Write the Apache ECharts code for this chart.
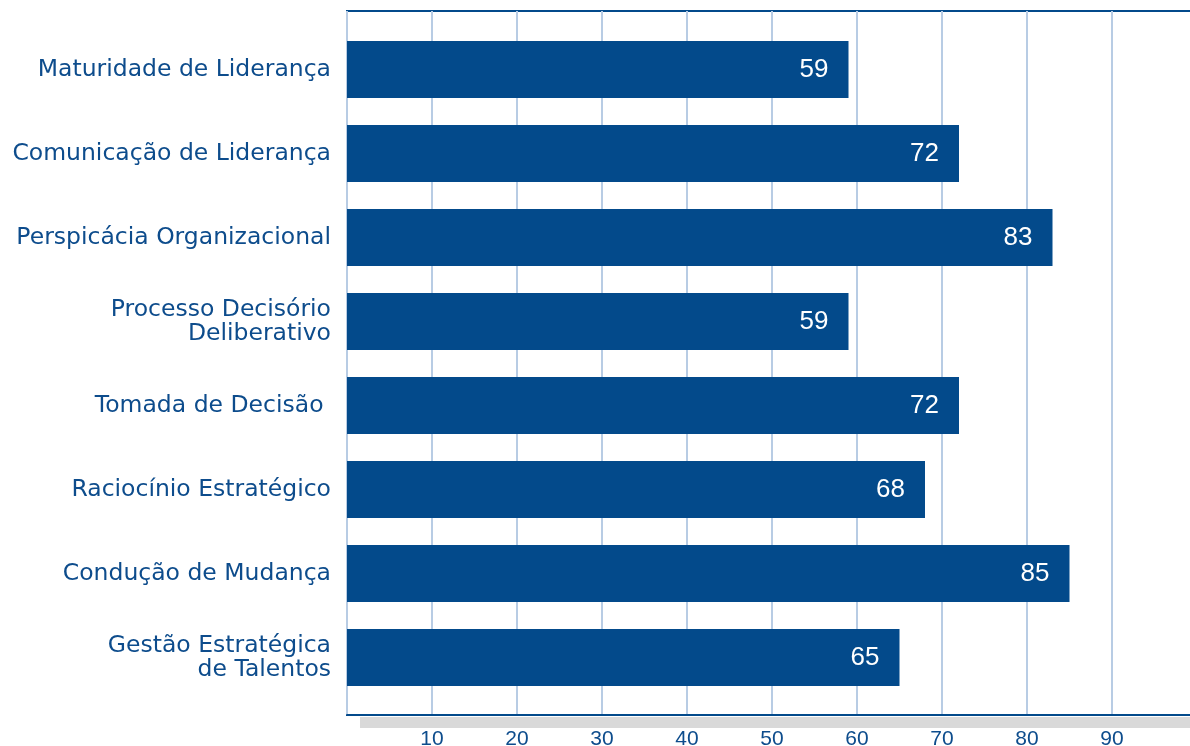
<!DOCTYPE html>
<html>
<head>
<meta charset="utf-8">
<script src="https://cdn.jsdelivr.net/npm/echarts@6/dist/echarts.min.js"></script>
<style>
  html, body { margin: 0; padding: 0; background: #fff; }
  #chart { width: 1190px; height: 746px; }
</style>
</head>
<body>
<div id="chart"></div>
<script>
// categorias de cima para baixo
var categorias = [
  'Maturidade de Liderança',
  'Comunicação de Liderança',
  'Perspicácia Organizacional',
  'Processo Decisório\nDeliberativo',
  'Tomada de Decisão ',
  'Raciocínio Estratégico',
  'Condução de Mudança',
  'Gestão Estratégica\nde Talentos'
];
var valores = [59, 72, 83, 59, 72, 68, 85, 65];
var ticks = [10, 20, 30, 40, 50, 60, 70, 80, 90];

var azul = '#034a8b';
var texto = '#0d4c8c';

var myChart = echarts.init(document.getElementById('chart'));

var option = {
  backgroundColor: '#fff',
  animation: false,
  graphic: [
    // sombra cinza embaixo do eixo
    { type: 'rect', shape: { x: 360, y: 717, width: 840, height: 11 }, style: { fill: '#d9d9d9' }, z: 0 }
  ],
  grid: [
    { left: 347, width: 850, top: 11, bottom: 31, show: true, borderColor: azul, borderWidth: 2,
      backgroundColor: 'transparent', outerBoundsMode: 'none' },
    { left: 347, width: 850, top: 27.5, bottom: 46.5, outerBoundsMode: 'none' }
  ],
  xAxis: [
    {
      gridIndex: 0, type: 'value', min: 0, max: 100, interval: 10,
      axisLine: { show: true, lineStyle: { color: azul, width: 2 } },
      axisTick: { show: false },
      splitLine: { show: true, lineStyle: { color: '#b8cce4', width: 2 } },
      axisLabel: {
        color: texto, fontSize: 21, fontFamily: 'Liberation Sans, Arial', margin: 14,
        formatter: function (v) { return ticks.indexOf(v) >= 0 ? v : ''; }
      }
    },
    {
      gridIndex: 1, type: 'value', min: 0, max: 100, show: false
    }
  ],
  yAxis: [
    { gridIndex: 0, type: 'value', show: false },
    {
      gridIndex: 1, type: 'category', inverse: true, data: categorias,
      axisLine: { show: false }, axisTick: { show: false },
      axisLabel: {
        color: texto, fontSize: 23.5, fontFamily: 'DejaVu Sans, Verdana', margin: 16,
        align: 'right', lineHeight: 24, padding: [4, 0, 0, 0]
      }
    }
  ],
  series: [
    {
      type: 'bar', xAxisIndex: 1, yAxisIndex: 1,
      data: valores,
      barWidth: 57,
      itemStyle: { color: azul },
      label: {
        show: true, position: 'insideRight', distance: 20,
        color: '#fff', fontSize: 26, fontFamily: 'Liberation Sans, Arial'
      },
      z: 3
    }
  ]
};

myChart.setOption(option);
</script>
</body>
</html>
